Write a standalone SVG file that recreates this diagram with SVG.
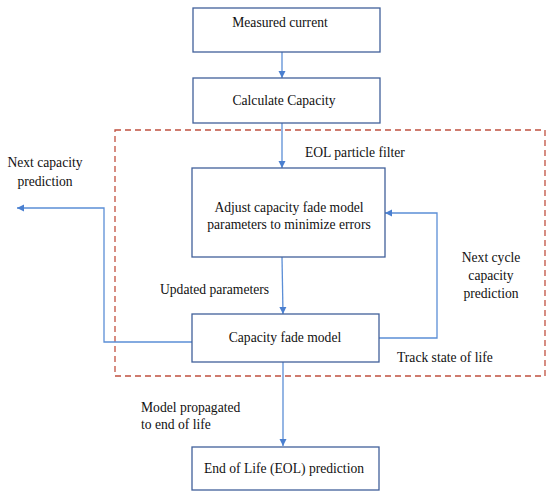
<svg xmlns="http://www.w3.org/2000/svg" width="550" height="497" viewBox="0 0 550 497">
<style>
.box{fill:#fff;stroke:#41609a;stroke-width:1.3}
.t{font-family:'Liberation Serif','Times New Roman',serif;font-size:13.6px;fill:#111}
.c{text-anchor:middle}
.ln{fill:none;stroke:#5b8ed6;stroke-width:1.3}
</style>
<defs>
<marker id="ah" markerWidth="8" markerHeight="8" refX="7" refY="4" orient="auto" markerUnits="userSpaceOnUse">
<path d="M0,0.5 L7,4 L0,7.5 Z" fill="#4a7fd0"/>
</marker>
</defs>
<rect width="550" height="497" fill="#fff"/>
<rect x="115" y="130" width="430" height="246" fill="none" stroke="#c0503f" stroke-width="1.3" stroke-dasharray="6,4"/>
<g id="connectors">
<line class="ln" x1="282" y1="52" x2="282" y2="78" marker-end="url(#ah)"/>
<line class="ln" x1="282" y1="123" x2="282" y2="168" marker-end="url(#ah)"/>
<line class="ln" x1="282" y1="257" x2="283" y2="314" marker-end="url(#ah)"/>
<polyline class="ln" points="192,342 104,342 104,208 17,208" marker-end="url(#ah)"/>
<polyline class="ln" points="379,338 437,338 437,213 385,213" marker-end="url(#ah)"/>
<line class="ln" x1="283" y1="362" x2="283" y2="446" marker-end="url(#ah)"/>
</g>
<g id="n1"><rect class="box" x="193" y="8" width="187" height="44"/><text class="t c" x="280" y="27">Measured current</text></g>
<g id="n2"><rect class="box" x="193" y="78" width="187" height="45"/><text class="t c" x="284" y="105">Calculate Capacity</text></g>
<g id="n3"><rect class="box" x="192" y="168" width="193" height="89"/><text class="t c" x="289" y="212">Adjust capacity fade model</text><text class="t c" x="289" y="229">parameters to minimize errors</text></g>
<g id="n4"><rect class="box" x="192" y="314" width="187" height="48"/><text class="t c" x="285" y="342">Capacity fade model</text></g>
<g id="n5"><rect class="box" x="192" y="447" width="187" height="43"/><text class="t c" x="284" y="473">End of Life (EOL) prediction</text></g>
<g id="labels">
<text class="t" x="305" y="157">EOL particle filter</text>
<text class="t c" x="45" y="167">Next capacity</text>
<text class="t c" x="45" y="186">prediction</text>
<text class="t" x="160" y="294">Updated parameters</text>
<text class="t c" x="491" y="262">Next cycle</text>
<text class="t c" x="491" y="280">capacity</text>
<text class="t c" x="491" y="298">prediction</text>
<text class="t" x="397" y="362">Track state of life</text>
<text class="t" x="141" y="412">Model propagated</text>
<text class="t" x="141" y="429">to end of life</text>
</g>
</svg>
